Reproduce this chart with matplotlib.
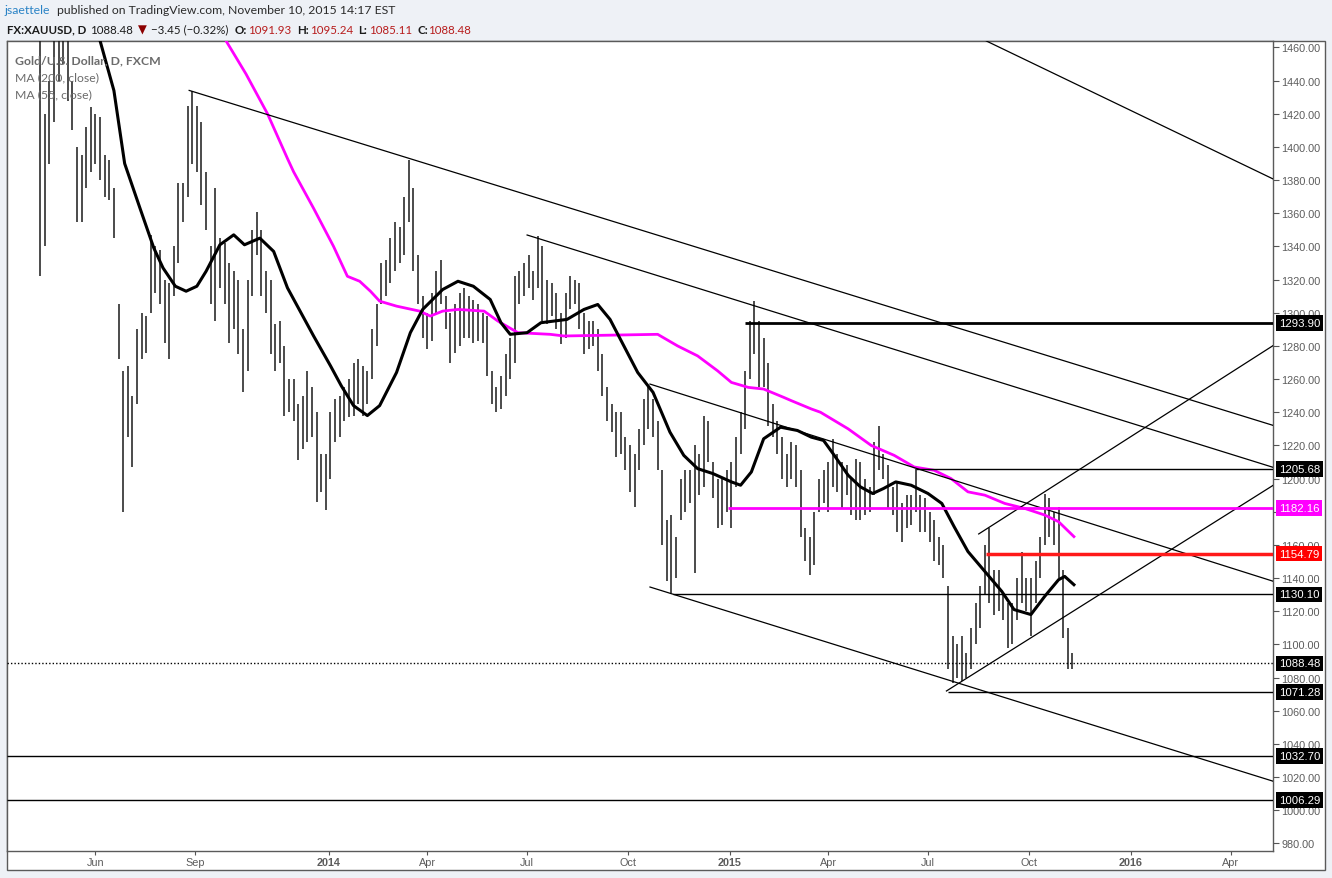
import numpy as np
import pandas as pd
import matplotlib
matplotlib.use('Agg')
import matplotlib.pyplot as plt
import matplotlib.transforms as mtransforms
from matplotlib.patches import Rectangle

# ---- data (XAUUSD daily, one bar per 3 trading days) ----
start = '2013-04-12'
last = '2015-11-10'

bar_high = [1565, 1420, 1440, 1475, 1480, 1488, 1475, 1440, 1400, 1395,
            1412, 1424, 1420, 1418, 1395, 1392, 1375, 1305, 1265, 1268,
            1250, 1290, 1300, 1298, 1347, 1340, 1338, 1320, 1318, 1340,
            1378, 1378, 1425, 1434, 1425, 1415, 1385, 1340, 1375, 1345,
            1342, 1330, 1325, 1320, 1290, 1320, 1350, 1361, 1350, 1325,
            1320, 1293, 1295, 1280, 1260, 1260, 1245, 1250, 1265, 1255,
            1240, 1215, 1215, 1240, 1248, 1250, 1255, 1260, 1270, 1272,
            1268, 1265, 1290, 1305, 1330, 1332, 1345, 1355, 1352, 1370,
            1392, 1375, 1335, 1310, 1300, 1312, 1325, 1332, 1310, 1300,
            1305, 1312, 1315, 1310, 1308, 1305, 1300, 1298, 1265, 1255,
            1262, 1275, 1285, 1322, 1325, 1330, 1335, 1325, 1346, 1340,
            1320, 1318, 1312, 1300, 1312, 1322, 1320, 1318, 1300, 1295,
            1295, 1290, 1275, 1255, 1245, 1240, 1240, 1225, 1220, 1215,
            1230, 1248, 1255, 1248, 1235, 1205, 1175, 1178, 1165, 1200,
            1205, 1205, 1220, 1215, 1238, 1235, 1210, 1200, 1200, 1205,
            1210, 1225, 1240, 1265, 1295, 1307, 1295, 1285, 1270, 1245,
            1235, 1225, 1215, 1222, 1220, 1205, 1170, 1165, 1180, 1200,
            1205, 1210, 1224, 1215, 1210, 1208, 1200, 1212, 1210, 1200,
            1195, 1222, 1232, 1215, 1208, 1195, 1198, 1185, 1190, 1190,
            1206, 1190, 1188, 1180, 1175, 1165, 1160, 1135, 1105, 1100,
            1105, 1095, 1110, 1125, 1135, 1160, 1170, 1145, 1145, 1130,
            1125, 1125, 1140, 1156, 1140, 1140, 1150, 1165, 1191, 1188,
            1180, 1183, 1145, 1110, 1095]

bar_low = [1322, 1340, 1390, 1415, 1440, 1450, 1428, 1410, 1355, 1355,
           1375, 1385, 1390, 1380, 1370, 1368, 1345, 1272, 1180, 1225,
           1207, 1245, 1272, 1276, 1300, 1312, 1305, 1282, 1272, 1310,
           1330, 1355, 1370, 1390, 1385, 1365, 1350, 1305, 1295, 1315,
           1305, 1282, 1290, 1275, 1252, 1265, 1310, 1335, 1310, 1300,
           1275, 1265, 1270, 1238, 1240, 1235, 1211, 1218, 1222, 1225,
           1186, 1192, 1181, 1200, 1222, 1225, 1235, 1237, 1238, 1245,
           1238, 1245, 1260, 1280, 1305, 1310, 1318, 1325, 1330, 1335,
           1355, 1325, 1305, 1285, 1278, 1283, 1300, 1305, 1290, 1270,
           1276, 1280, 1285, 1285, 1282, 1283, 1282, 1262, 1245, 1240,
           1242, 1250, 1260, 1270, 1305, 1310, 1315, 1308, 1315, 1295,
           1293, 1298, 1290, 1281, 1285, 1302, 1305, 1290, 1275, 1278,
           1280, 1265, 1250, 1235, 1228, 1213, 1215, 1205, 1192, 1183,
           1205, 1220, 1230, 1225, 1205, 1160, 1138, 1131, 1140, 1175,
           1180, 1185, 1143, 1190, 1195, 1210, 1188, 1170, 1172, 1180,
           1170, 1195, 1215, 1230, 1260, 1275, 1255, 1255, 1232, 1225,
           1215, 1200, 1195, 1200, 1195, 1165, 1150, 1142, 1148, 1180,
           1185, 1180, 1195, 1192, 1182, 1190, 1178, 1175, 1175, 1178,
           1180, 1190, 1205, 1200, 1182, 1178, 1168, 1162, 1170, 1172,
           1180, 1168, 1168, 1162, 1150, 1148, 1140, 1085, 1077, 1080,
           1078, 1080, 1085, 1100, 1110, 1130, 1125, 1118, 1120, 1115,
           1098, 1100, 1115, 1125, 1120, 1105, 1125, 1140, 1160, 1165,
           1160, 1140, 1104, 1085, 1085]

# moving averages, traced (trading day since start, price)
ma55_day = [33, 39, 48, 55, 65, 74, 80, 88, 95, 102, 108, 117, 126, 133, 143,
            152, 161, 178, 189, 196, 204, 213, 221, 232, 241, 249, 262, 272,
            282, 293, 300, 306, 317, 326, 343, 354, 363, 371, 380, 389, 399,
            410, 419, 428, 438, 450, 456, 463, 471, 482, 493, 502, 510, 517,
            526, 534, 542, 549, 557, 567, 578, 587, 595, 604, 615, 626, 634,
            645, 654, 663, 667, 673]
ma55_val = [1495, 1464, 1434, 1390, 1363, 1339, 1327, 1316, 1313, 1316, 1325,
            1341, 1347, 1341, 1345, 1337, 1315, 1286, 1268, 1256, 1244, 1238,
            1244, 1264, 1288, 1302, 1314, 1319, 1316, 1308, 1294, 1287, 1288,
            1294, 1296, 1302, 1305, 1296, 1280, 1264, 1252, 1228, 1214, 1206,
            1203, 1198, 1196, 1204, 1224, 1231, 1229, 1225, 1223, 1214, 1202,
            1195, 1191, 1194, 1198, 1196, 1191, 1185, 1171, 1156, 1144, 1132,
            1121, 1118, 1129, 1139, 1141, 1136]

ma200_day = [115, 121, 134, 148, 161, 165, 178, 191, 200, 208, 215, 221, 232,
             247, 254, 262, 272, 289, 298, 311, 332, 341, 402, 415, 428, 441,
             450, 461, 471, 484, 489, 502, 508, 526, 541, 556, 569, 582, 593,
             604, 615, 628, 641, 654, 663, 673]
ma200_val = [1480, 1464, 1444, 1420, 1393, 1385, 1363, 1340, 1322, 1319, 1313,
             1307, 1304, 1301, 1298, 1301, 1302, 1301, 1295, 1288, 1287, 1286,
             1287, 1280, 1274, 1265, 1258, 1255, 1254, 1249, 1247, 1242, 1240,
             1230, 1220, 1214, 1207, 1205, 1200, 1192, 1190, 1185, 1182, 1178,
             1174, 1165]

# drawn trend lines: start (day, price) and end (day, price)
line_d0 = [616, 97, 317, 397, 397, 590, 611]
line_v0 = [1463.9, 1434.1, 1346.9, 1257.0, 1134.6, 1071.9, 1166.6]
line_d1 = [804, 804, 804, 804, 804, 804, 804]
line_v1 = [1380.1, 1231.7, 1206.4, 1137.7, 1017.1, 1196.7, 1281.0]

# horizontal levels and the trading day each one starts on
level_val = [1293.90, 1205.68, 1182.16, 1154.79, 1130.10, 1071.28, 1032.70, 1006.29]
level_day = [459, 570, 448, 616, 412, 591, None, None]
last_close = 1088.48

tick_dates = ['2013-06-01', '2013-09-01', '2014-01-01', '2014-04-01', '2014-07-01',
              '2014-10-01', '2015-01-01', '2015-04-01', '2015-07-01', '2015-10-01',
              '2016-01-01', '2016-04-01']
tick_labels = ['Jun', 'Sep', '2014', 'Apr', 'Jul', 'Oct', '2015', 'Apr', 'Jul',
               'Oct', '2016', 'Apr']

# ---- figure ----
plt.rcParams['font.family'] = ['Liberation Sans', 'DejaVu Sans']
W, H = 1332, 879
fig = plt.figure(figsize=(W / 100, H / 100), dpi=100, facecolor='#eef1f6')
fig.patches.append(Rectangle((7 / W, 8 / H), 1318 / W, 829 / H, transform=fig.transFigure,
                             facecolor='white', edgecolor='#5a5a5a', lw=1, zorder=-1))
ax = fig.add_axes([7 / W, 27 / H, 1266 / W, 810 / H])
x_left, x_right = -21.6, 802.6
ax.set_xlim(x_left, x_right)
ax.set_ylim(975.4, 1463.9)

bar_dates = pd.bdate_range(start, last)[::3]
bar_x = np.busday_count(np.datetime64(start), bar_dates.values.astype('datetime64[D]'))
ax.vlines(bar_x, bar_low, bar_high, colors='#1a1a1a', lw=1.1, zorder=3)

ax.plot(ma200_day, ma200_val, color='#ff00ff', lw=2, zorder=4)
ax.plot(ma55_day, ma55_val, color='black', lw=2.2, zorder=4)

for d0, v0, d1, v1 in zip(line_d0, line_v0, line_d1, line_v1):
    ax.plot([d0, d1], [v0, v1], color='black', lw=0.9, zorder=5)

level_colors = ['black', 'black', '#ff00ff', '#ff1a1a', 'black', 'black', 'black', 'black']
level_widths = [2, 1, 2, 2.5, 1, 1, 1, 1]
for v, d, c, w in zip(level_val, level_day, level_colors, level_widths):
    ax.hlines(v, x_left if d is None else d, x_right, colors=c, lw=w, zorder=5)
ax.hlines(last_close, x_left, x_right, colors='black', lw=1, linestyles=(0, (1, 1.5)), zorder=5)

# price boxes on the axis
blend = mtransforms.blended_transform_factory(ax.transAxes, ax.transData)
box_colors = ['black', 'black', '#ff00ff', '#ff0000', 'black', 'black', 'black', 'black']
for v, c in zip(level_val + [last_close], box_colors + ['black']):
    ax.text(1 + 6 / 1266, v, f'{v:.2f}', transform=blend, color='white', fontsize=8.2,
            ha='left', va='center', clip_on=False, zorder=10,
            bbox=dict(boxstyle='square,pad=0.24', fc=c, ec='none'))

# axes styling
yt = list(range(980, 1461, 20))
ax.yaxis.tick_right()
ax.set_yticks(yt)
# the 1180 label sits fully under the 1182.16 box in the original
ax.set_yticklabels(['' if t == 1180 else f'{t:.2f}' for t in yt])
ax.set_xticks(np.busday_count(np.datetime64(start), np.array(tick_dates, dtype='datetime64[D]')))
ax.set_xticklabels(tick_labels)
for lab in ax.get_xticklabels():
    if lab.get_text().isdigit():
        lab.set_fontweight('bold')
ax.tick_params(axis='both', length=3, color='#555555', labelcolor='#5c5c5c', labelsize=7.8)
ax.tick_params(axis='y', length=4, pad=2)
ax.tick_params(axis='x', pad=1.5)
for s in ax.spines.values():
    s.set_color('#5a5a5a')
    s.set_linewidth(1)

# header
def fy(y):
    return 1 - y / H

hdr = ['Lato', 'DejaVu Sans']
fig.text(4 / W, fy(11), 'jsaettele', color='#2a83c6', fontsize=8.8, family=hdr, va='center')
fig.text(57 / W, fy(11), 'published on TradingView.com, November 10, 2015 14:17 EST',
         color='#2b2b2b', fontsize=8.8, family=hdr, va='center')
pieces = [(7, 'FX:XAUUSD, D', 'bold', '#1a1a1a'), (90, '1088.48', 'normal', '#1a1a1a'),
          (138, '\u25bc', 'normal', '#8b0000'), (151, '\u22123.45 (\u22120.32%)', 'normal', '#1a1a1a'),
          (235, 'O:', 'bold', '#1a1a1a'), (248, '1091.93', 'normal', '#b71c1c'),
          (297, 'H:', 'bold', '#1a1a1a'), (310, '1095.24', 'normal', '#b71c1c'),
          (358, 'L:', 'bold', '#1a1a1a'), (369, '1085.11', 'normal', '#b71c1c'),
          (417, 'C:', 'bold', '#1a1a1a'), (428, '1088.48', 'normal', '#b71c1c')]
for px, s, wt, c in pieces:
    fig.text(px / W, fy(30), s, color=c, fontsize=8.3, fontweight=wt, family=hdr, va='center')

fig.text(15 / W, fy(61), 'Gold/U.S. Dollar, D, FXCM', color='#6b6b6b', fontsize=8.8,
         fontweight='bold', family=hdr, va='center')
fig.text(15 / W, fy(78), 'MA (200, close)', color='#6b6b6b', fontsize=8.8, family=hdr, va='center')
fig.text(15 / W, fy(95), 'MA (55, close)', color='#6b6b6b', fontsize=8.8, family=hdr, va='center')

fig.savefig('out.png', dpi=100, facecolor=fig.get_facecolor())
